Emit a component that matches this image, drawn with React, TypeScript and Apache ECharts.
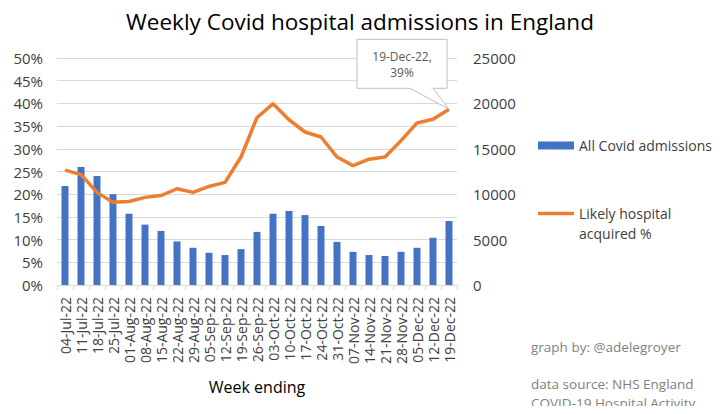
import React, { useEffect, useRef } from "react";
import * as echarts from "echarts";

const weeks = [
  "04-Jul-22", "11-Jul-22", "18-Jul-22", "25-Jul-22", "01-Aug-22", "08-Aug-22",
  "15-Aug-22", "22-Aug-22", "29-Aug-22", "05-Sep-22", "12-Sep-22", "19-Sep-22",
  "26-Sep-22", "03-Oct-22", "10-Oct-22", "17-Oct-22", "24-Oct-22", "31-Oct-22",
  "07-Nov-22", "14-Nov-22", "21-Nov-22", "28-Nov-22", "05-Dec-22", "12-Dec-22",
  "19-Dec-22",
];

const admissions = [
  10900, 13000, 12000, 10000, 7850, 6650, 5950, 4800, 4100, 3550, 3300, 3950,
  5850, 7850, 8150, 7700, 6500, 4750, 3650, 3300, 3200, 3650, 4100, 5200, 7050,
];

const hospitalAcquired = [
  0.253, 0.243, 0.204, 0.182, 0.184, 0.193, 0.197, 0.212, 0.204, 0.217, 0.226,
  0.282, 0.369, 0.399, 0.364, 0.337, 0.326, 0.282, 0.263, 0.277, 0.282, 0.318,
  0.357, 0.365, 0.387,
];

const pctTicks = { min: 0, max: 0.5, interval: 0.05 };
const countTicks = { min: 0, max: 25000, interval: 5000 };

const FONT = "Open Sans";
const GRID_COLOR = "#d9d9d9";
const TEXT = "#404040";
const BAR_COLOR = "#4472c4";
const LINE_COLOR = "#ed7d31";

// Legend swatch for the line: a thin band centred in an 36x8 box
const LINE_ICON = "path://M0,0 L0,0 M0,2.25 H37 V5.75 H0 Z M37,8 L37,8";

export default function App() {
  const ref = useRef<HTMLDivElement>(null);

  useEffect(() => {
    if (!ref.current) return;
    const chart = echarts.init(ref.current, undefined, { renderer: "svg" });

    chart.setOption({
      animation: false,
      backgroundColor: "#ffffff",
      textStyle: { fontFamily: FONT },
      title: {
        text: "Weekly Covid hospital admissions in England",
        left: "center",
        top: 5,
        textStyle: { fontFamily: FONT, fontSize: 22.5, fontWeight: "normal", color: "#000" },
      },
      grid: { left: 57, right: 263, top: 58, bottom: 129, containLabel: false },
      legend: {
        orient: "vertical",
        left: 533,
        top: 130.5,
        itemGap: 28,
        itemWidth: 36,
        itemHeight: 8,
        textStyle: { fontFamily: FONT, fontSize: 14, color: TEXT, lineHeight: 20 },
        data: [
          { name: "All Covid admissions", icon: "rect" },
          { name: "Likely hospital acquired %", icon: LINE_ICON },
        ],
        // blank first line keeps "Likely hospital" level with its swatch
        formatter: (name: string) =>
          name === "Likely hospital acquired %" ? " \nLikely hospital\nacquired %" : name,
      },
      xAxis: {
        type: "category",
        data: weeks,
        boundaryGap: true,
        name: "Week ending",
        nameLocation: "middle",
        nameGap: 94,
        nameMoveOverlap: false,
        nameTextStyle: { fontFamily: FONT, fontSize: 16, color: "#000" },
        axisLine: { lineStyle: { color: GRID_COLOR } },
        axisTick: { show: true, length: 5, lineStyle: { color: GRID_COLOR } },
        axisLabel: {
          rotate: 90,
          interval: 0,
          margin: 12,
          fontFamily: FONT,
          fontSize: 14,
          color: TEXT,
        },
      },
      yAxis: [
        {
          type: "value",
          ...pctTicks,
          position: "left",
          axisLine: { show: false },
          axisTick: { show: false },
          splitLine: { lineStyle: { color: GRID_COLOR } },
          axisLabel: {
            margin: 14,
            fontFamily: FONT,
            fontSize: 15,
            color: TEXT,
            formatter: (v: number) => `${Math.round(v * 100)}%`,
          },
        },
        {
          type: "value",
          ...countTicks,
          position: "right",
          axisLine: { show: false },
          axisTick: { show: false },
          splitLine: { show: false },
          axisLabel: {
            margin: 16,
            fontFamily: FONT,
            fontSize: 15,
            color: TEXT,
            formatter: (v: number) => String(v),
          },
        },
      ],
      series: [
        {
          name: "All Covid admissions",
          type: "bar",
          yAxisIndex: 1,
          data: admissions,
          barWidth: 7,
          itemStyle: { color: BAR_COLOR },
        },
        {
          name: "Likely hospital acquired %",
          type: "line",
          yAxisIndex: 0,
          data: hospitalAcquired,
          symbol: "none",
          lineStyle: { color: LINE_COLOR, width: 3.5, join: "round" },
          itemStyle: { color: LINE_COLOR },
        },
      ],
    });

    // Callout box for the latest week, anchored to its point on the line
    const lastIdx = weeks.length - 1;
    const lastVal = hospitalAcquired[lastIdx];
    const [px, py] = chart.convertToPixel({ xAxisIndex: 0, yAxisIndex: 0 }, [
      lastIdx,
      lastVal,
    ]) as number[];
    const boxL = px - 92;
    const boxR = px - 2;
    const boxT = py - 70;
    const boxB = py - 21;
    const cx = (boxL + boxR) / 2;

    chart.setOption({
      graphic: [
        {
          type: "polygon",
          shape: {
            points: [
              [boxL, boxT],
              [boxR, boxT],
              [boxR, boxB],
              [px - 16, boxB],
              [px, py],
              [px - 39, boxB],
              [boxL, boxB],
            ],
          },
          style: { fill: "#ffffff", stroke: "#bfbfbf", lineWidth: 1 },
          z: 100,
        },
        {
          type: "text",
          x: cx,
          y: boxT + 25,
          style: {
            text: `${weeks[lastIdx]},\n${Math.round(lastVal * 100)}%`,
            fontFamily: FONT,
            fontSize: 12,
            lineHeight: 16,
            fill: "#595959",
            align: "center",
            verticalAlign: "middle",
          },
          z: 101,
        },
        {
          type: "text",
          left: 531,
          top: 340,
          style: {
            text: "graph by: @adelegroyer",
            fontFamily: FONT,
            fontSize: 13.5,
            fill: "#7f7f7f",
          },
        },
        {
          type: "text",
          left: 531,
          top: 374.5,
          style: {
            text: "data source: NHS England\nCOVID-19 Hospital Activity",
            fontFamily: FONT,
            fontSize: 13.5,
            lineHeight: 19,
            fill: "#7f7f7f",
          },
        },
      ],
    });

    return () => chart.dispose();
  }, []);

  return <div ref={ref} style={{ width: 720, height: 414, margin: -8 }} />;
}
